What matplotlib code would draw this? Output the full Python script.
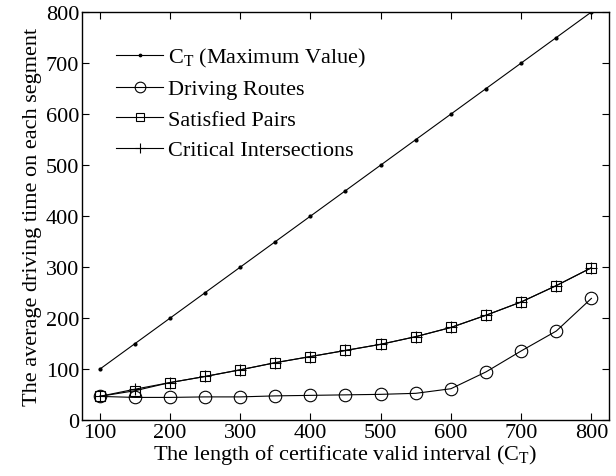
import matplotlib
matplotlib.use('Agg')
import matplotlib.pyplot as plt

plt.rcParams['font.family'] = 'Liberation Serif'
plt.rcParams['mathtext.fontset'] = 'custom'
plt.rcParams['mathtext.rm'] = 'Liberation Serif'
plt.rcParams['mathtext.it'] = 'Liberation Serif:italic'

# Data
interval = [100, 150, 200, 250, 300, 350, 400, 450, 500, 550, 600, 650, 700, 750, 800]
ct_max = [100, 150, 200, 250, 300, 350, 400, 450, 500, 550, 600, 650, 700, 750, 800]
driving_routes = [47, 45, 45, 46, 46, 48, 49, 50, 51, 53, 62, 95, 136, 175, 239]
satisfied_pairs = [47, 58, 74, 86, 99, 113, 125, 137, 149, 164, 182, 206, 232, 264, 299]
critical_inter = [47, 61, 74, 86, 99, 113, 125, 137, 149, 164, 182, 206, 232, 264, 299]

fig = plt.figure(figsize=(6.16, 4.77), dpi=100)
ax = fig.add_axes([0.1331, 0.1166, 0.8555, 0.8561])

ax.plot(interval, ct_max, color='k', lw=0.8, marker='.', ms=4,
        label=r'C$_\mathrm{T}$ (Maximum Value)')
ax.plot(interval, driving_routes, color='k', lw=0.8, marker='o', ms=9,
        mfc='none', mew=0.8, label='Driving Routes')
ax.plot(interval, satisfied_pairs, color='k', lw=0.8, marker='s', ms=7,
        mfc='none', mew=0.8, label='Satisfied Pairs')
ax.plot(interval, critical_inter, color='k', lw=0.8, marker='+', ms=8,
        mew=0.8, label='Critical Intersections')

ax.set_xlim(75, 825)
ax.set_ylim(0, 800)
ax.set_xticks(range(100, 801, 100))
ax.set_yticks(range(0, 801, 100))
ax.tick_params(direction='in', top=True, right=True, length=5, labelsize=16, pad=2)
for s in ax.spines.values():
    s.set_linewidth(1.0)

ax.set_xlabel(r'The length of certificate valid interval (C$_\mathrm{T}$)', fontsize=16, labelpad=0)
ax.set_ylabel('The average driving time on each segment', fontsize=16, labelpad=3)

ax.legend(loc='upper left', bbox_to_anchor=(0.04, 0.95), frameon=False, fontsize=16,
          handlelength=2.1, handletextpad=0.2, labelspacing=0.45, borderaxespad=0.2,
          markerscale=0.85)

fig.savefig('out.png', dpi=100)
